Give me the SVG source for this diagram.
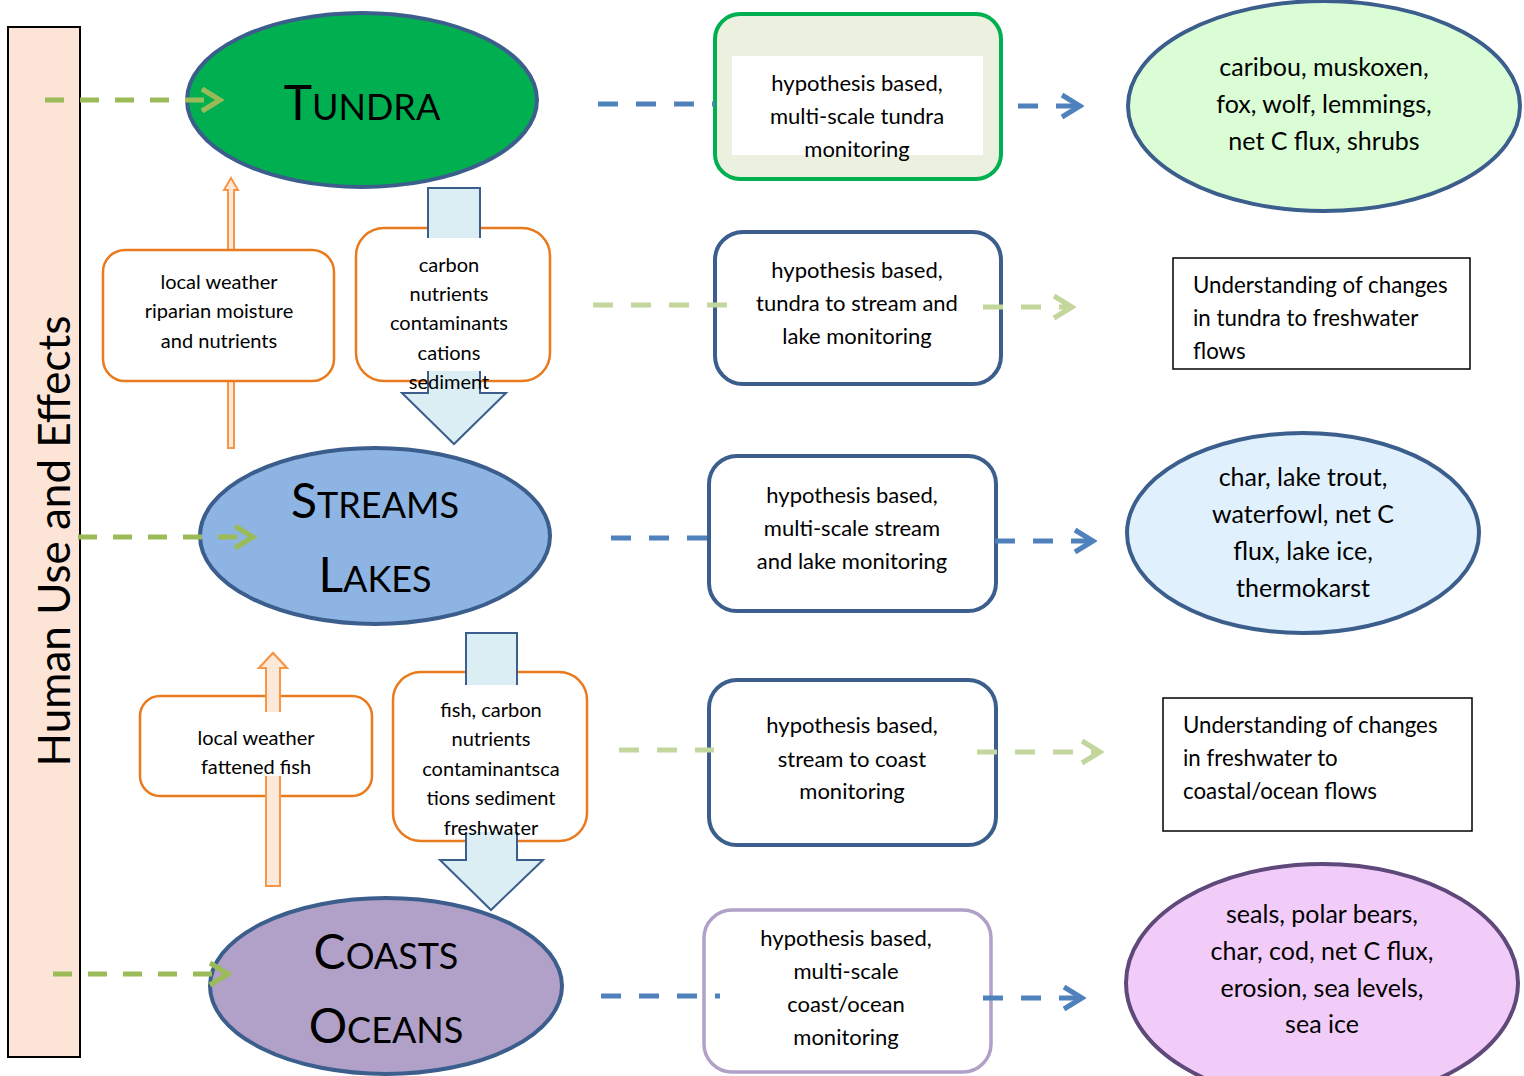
<svg xmlns="http://www.w3.org/2000/svg" width="1524" height="1076" viewBox="0 0 1524 1076">
<defs>
<style>
text{font-family:Lato,"Open Sans","Liberation Sans",sans-serif;fill:#000}
.t{font-size:22px;text-anchor:middle}
.s{font-size:20px;text-anchor:middle}
.r{font-size:25px;text-anchor:middle}
.u{font-size:22.3px}
.big{font-size:48px;text-anchor:middle}
.sc{font-size:36px}
.hab{fill:#00B050}
.eco{stroke:#3B5E8C;stroke-width:4}
.mon{fill:#fff;stroke:#3B5E8C;stroke-width:4}
.ob{fill:#fff;stroke:#E97A1D;stroke-width:2.5}
.ua{fill:#FDE9D9;stroke:#F79646;stroke-width:2}
.da{fill:#DAEEF3;stroke:#3B5E8C;stroke-width:2}
.bd{fill:none;stroke:#4F81BD;stroke-width:5;stroke-dasharray:20 18}
.gd{fill:none;stroke:#9BBB59;stroke-width:5;stroke-dasharray:19 16}
.ld{fill:none;stroke:#C3D69B;stroke-width:5;stroke-dasharray:20 18}
.box{fill:#fff;stroke:#000;stroke-width:1.5}
</style>
<marker id="mb" markerWidth="26" markerHeight="30" refX="22" refY="15" orient="auto" markerUnits="userSpaceOnUse"><path d="M4,4 L22,15 L4,26" fill="none" stroke="#4F81BD" stroke-width="5"/></marker>
<marker id="mg" markerWidth="26" markerHeight="30" refX="22" refY="15" orient="auto" markerUnits="userSpaceOnUse"><path d="M4,4 L22,15 L4,26" fill="none" stroke="#9BBB59" stroke-width="5"/></marker>
<marker id="ml" markerWidth="26" markerHeight="30" refX="22" refY="15" orient="auto" markerUnits="userSpaceOnUse"><path d="M4,4 L22,15 L4,26" fill="none" stroke="#C3D69B" stroke-width="5"/></marker>
</defs>

<g id="human-use">
<rect x="8" y="27" width="72" height="1030" fill="#FCE4D6" stroke="#000" stroke-width="2"/>
<text transform="translate(70,541) rotate(-90)" text-anchor="middle" font-size="44">Human Use and Effects</text>
</g>

<g id="flow-arrows">
<path class="ua" d="M228,448 V190 H224 L231,178 L238,190 H234 V448 Z"/>
<path class="ua" d="M266,886 V668 H259 L273,653 L287,668 H280 V886 Z"/>
<path class="da" d="M428,238 V188 H480 V238 Z"/>
<path class="da" d="M466,685 V633 H517 V685 Z"/>
</g>

<g id="tundra">
<ellipse cx="362" cy="100" rx="175" ry="87" class="hab eco"/>
<text class="big" x="362" y="120">T<tspan class="sc">UNDRA</tspan></text>
</g>
<g id="streams-lakes">
<ellipse cx="375" cy="536" rx="175" ry="88" fill="#8EB4E3" class="eco"/>
<text class="big" x="375" y="518">S<tspan class="sc">TREAMS</tspan></text>
<text class="big" x="375" y="592">L<tspan class="sc">AKES</tspan></text>
</g>
<g id="coasts-oceans">
<ellipse cx="386" cy="986" rx="176" ry="88" fill="#B1A0C7" class="eco"/>
<text class="big" x="386" y="969">C<tspan class="sc">OASTS</tspan></text>
<text class="big" x="386" y="1043">O<tspan class="sc">CEANS</tspan></text>
</g>

<g id="tundra-feedback">
<rect class="ob" x="103" y="250" width="231" height="131" rx="22"/>
<text class="s" x="219" y="289">local weather</text>
<text class="s" x="219" y="318">riparian moisture</text>
<text class="s" x="219" y="348">and nutrients</text>
</g>
<g id="tundra-exports">
<rect class="ob" x="356" y="228" width="194" height="153" rx="28"/>
<path class="da" d="M428,238 V188 H480 V238"/>
<path class="da" d="M428,371 V393 H402 L454,444 L506,393 H480 V371"/>
<text class="s" x="449" y="272">carbon</text>
<text class="s" x="449" y="301">nutrients</text>
<text class="s" x="449" y="330">contaminants</text>
<text class="s" x="449" y="360">cations</text>
<text class="s" x="449" y="389">sediment</text>
</g>
<g id="streams-feedback">
<rect class="ob" x="140" y="696" width="232" height="100" rx="20"/>
<path class="ua" d="M266,712 V668 H259 L273,653 L287,668 H280 V712"/>
<path class="ua" d="M266,776 V886 H280 V776"/>
<text class="s" x="256" y="745">local weather</text>
<text class="s" x="256" y="774">fattened fish</text>
</g>
<g id="streams-exports">
<rect class="ob" x="393" y="672" width="194" height="169" rx="28"/>
<path class="da" d="M466,685 V633 H517 V685"/>
<path class="da" d="M466,832 V860 H440 L491,910 L543,860 H517 V832"/>
<text class="s" x="491" y="717">fish, carbon</text>
<text class="s" x="491" y="746">nutrients</text>
<text class="s" x="491" y="776">contaminantsca</text>
<text class="s" x="491" y="805">tions sediment</text>
<text class="s" x="491" y="835">freshwater</text>
</g>

<g id="mon-tundra">
<rect x="715" y="14" width="286" height="165" rx="25" fill="#EBF1DE" stroke="#00B050" stroke-width="4"/>
<rect x="732" y="56" width="251" height="99" fill="#fff"/>
<text class="t" x="857" y="91">hypothesis based,</text>
<text class="t" x="857" y="124">multi-scale tundra</text>
<text class="t" x="857" y="157">monitoring</text>
</g>
<g id="mon-tundra-stream">
<rect class="mon" x="715" y="232" width="286" height="152" rx="28"/>
<text class="t" x="857" y="278">hypothesis based,</text>
<text class="t" x="857" y="311">tundra to stream and</text>
<text class="t" x="857" y="344">lake  monitoring</text>
</g>
<g id="mon-stream">
<rect class="mon" x="709" y="456" width="287" height="155" rx="28"/>
<text class="t" x="852" y="503">hypothesis based,</text>
<text class="t" x="852" y="536">multi-scale stream</text>
<text class="t" x="852" y="569">and lake monitoring</text>
</g>
<g id="mon-stream-coast">
<rect class="mon" x="709" y="680" width="287" height="165" rx="28"/>
<text class="t" x="852" y="733">hypothesis based,</text>
<text class="t" x="852" y="767">stream to coast</text>
<text class="t" x="852" y="799">monitoring</text>
</g>
<g id="mon-coast">
<rect x="704" y="910" width="287" height="162" rx="28" fill="#fff" stroke="#B1A0C7" stroke-width="3.5"/>
<text class="t" x="846" y="946">hypothesis based,</text>
<text class="t" x="846" y="979">multi-scale</text>
<text class="t" x="846" y="1012">coast/ocean</text>
<text class="t" x="846" y="1045">monitoring</text>
</g>

<g id="res-tundra">
<ellipse cx="1324" cy="106" rx="196" ry="105" fill="#DAFDD6" class="eco"/>
<text class="r" x="1324" y="76">caribou, muskoxen,</text>
<text class="r" x="1324" y="113">fox, wolf, lemmings,</text>
<text class="r" x="1324" y="150">net C flux, shrubs</text>
</g>
<g id="res-tundra-fresh">
<rect class="box" x="1173" y="258" width="297" height="111"/>
<text class="u" x="1193" y="293">Understanding of changes</text>
<text class="u" x="1193" y="326">in tundra to freshwater</text>
<text class="u" x="1193" y="359">flows</text>
</g>
<g id="res-streams">
<ellipse cx="1303" cy="533" rx="176" ry="100" fill="#E0F1FD" class="eco"/>
<text class="r" x="1303" y="486">char, lake trout,</text>
<text class="r" x="1303" y="523">waterfowl, net C</text>
<text class="r" x="1303" y="560">flux, lake ice,</text>
<text class="r" x="1303" y="597">thermokarst</text>
</g>
<g id="res-fresh-coast">
<rect class="box" x="1163" y="698" width="309" height="133"/>
<text class="u" x="1183" y="733">Understanding of changes</text>
<text class="u" x="1183" y="766">in freshwater to</text>
<text class="u" x="1183" y="799">coastal/ocean flows</text>
</g>
<g id="res-coasts">
<ellipse cx="1322" cy="983" rx="196" ry="119" fill="#F2CCF9" stroke="#5F497A" stroke-width="4"/>
<text class="r" x="1322" y="923">seals, polar bears,</text>
<text class="r" x="1322" y="960">char, cod,  net C flux,</text>
<text class="r" x="1322" y="997">erosion, sea levels,</text>
<text class="r" x="1322" y="1033">sea ice</text>
</g>

<g id="connectors">
<path class="gd" d="M45,100 H220" marker-end="url(#mg)"/>
<path class="gd" d="M78,537 H253" marker-end="url(#mg)"/>
<path class="gd" d="M53,974 H228" marker-end="url(#mg)"/>
<path class="bd" d="M598,104 H715"/>
<path class="bd" d="M1018,106 H1080" marker-end="url(#mb)"/>
<path class="ld" d="M593,305 H729"/>
<path class="ld" d="M983,307 H1072" marker-end="url(#ml)"/>
<path class="bd" d="M611,538 H709"/>
<path class="bd" d="M995,541 H1093" marker-end="url(#mb)"/>
<path class="ld" d="M619,750 H714"/>
<path class="ld" d="M977,752 H1100" marker-end="url(#ml)"/>
<path class="bd" d="M601,996 H720"/>
<path class="bd" d="M983,998 H1082" marker-end="url(#mb)"/>
</g>
</svg>
